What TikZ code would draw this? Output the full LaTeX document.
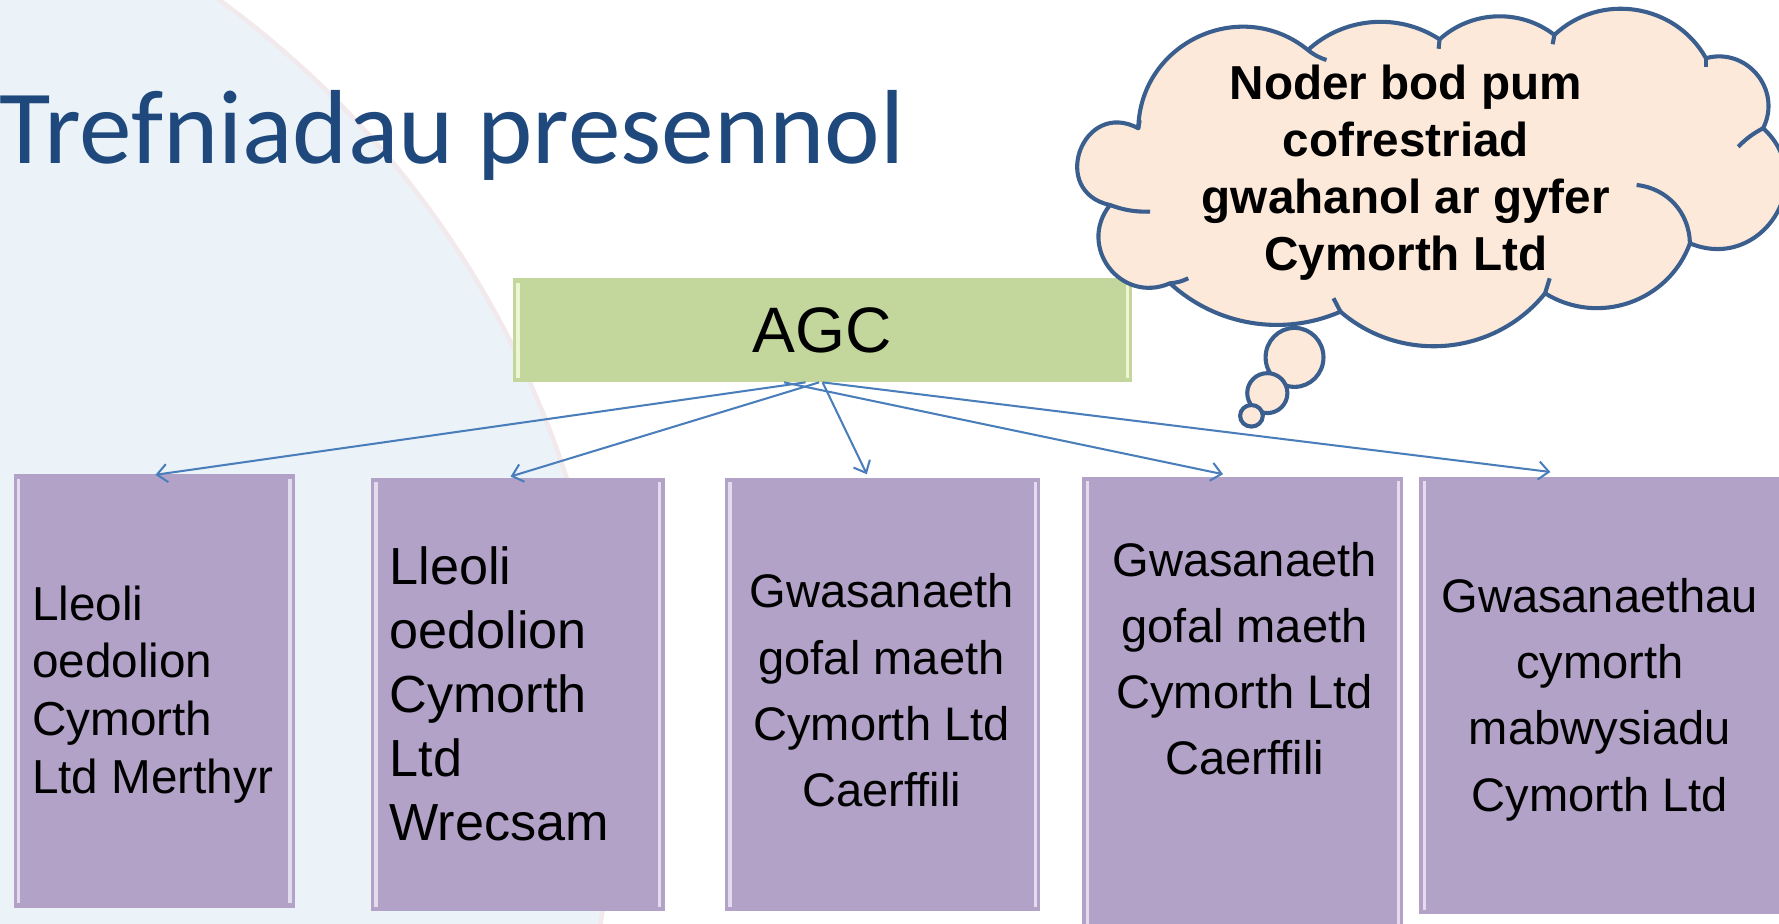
\documentclass[tikz,border=0pt]{standalone}
\usepackage{fontspec}
\setmainfont{Liberation Sans}
\newfontfamily\titlefont{Carlito}
\usetikzlibrary{arrows.meta,calc}
\definecolor{bgblue}{HTML}{EBF3F9}
\definecolor{bgedge}{HTML}{F1E9EC}
\definecolor{titleblue}{HTML}{1F497D}
\definecolor{agcgreen}{HTML}{C3D69B}
\definecolor{agchl}{HTML}{EEF5D2}
\definecolor{boxpurple}{HTML}{B2A2C7}
\definecolor{purplehl}{HTML}{E4DCEE}
\definecolor{arrowblue}{HTML}{4A7EBB}
\definecolor{cloudfill}{HTML}{FDE9D9}
\definecolor{cloudline}{HTML}{3A5F8E}
\begin{document}
\begin{tikzpicture}[x=0.5pt,y=0.5pt,
  purplebox/.style={rectangle, fill=boxpurple, inner sep=0pt, outer sep=0pt,
    path picture={
      \fill[purplehl] ([shift={(1.5pt,-2pt)}]path picture bounding box.north west) rectangle ([shift={(3pt,2pt)}]path picture bounding box.south west);
      \fill[purplehl] ([shift={(-3pt,-2pt)}]path picture bounding box.north east) rectangle ([shift={(-1.5pt,2pt)}]path picture bounding box.south east);
    }},
  greenbox/.style={rectangle, fill=agcgreen, inner sep=0pt, outer sep=0pt,
    path picture={
      \fill[agchl] ([shift={(1.5pt,-2pt)}]path picture bounding box.north west) rectangle ([shift={(3pt,2pt)}]path picture bounding box.south west);
      \fill[agchl] ([shift={(-3pt,-2pt)}]path picture bounding box.north east) rectangle ([shift={(-1.5pt,2pt)}]path picture bounding box.south east);
    }},
  boxtext/.style={inner sep=0pt, font=\fontsize{20.75}{29.2}\selectfont},
  arr/.style={draw=arrowblue, line width=0.9pt, -{Straight Barb[length=4.5pt,width=8pt]}},
  cloudst/.style={fill=cloudfill, draw=cloudline, line width=1.8pt, line join=round},
  creasest/.style={draw=cloudline, line width=1.8pt},
]
\useasboundingbox (0,0) rectangle (1568,814);
\fill[white] (0,0) rectangle (1568,814);
\fill[bgblue, draw=bgedge, line width=2pt] (-300,134) circle[radius=840];

% title
\node[anchor=base west, inner sep=0pt, text=titleblue, font=\titlefont\fontsize{46.4}{50}\selectfont] (title) at (-1,670) {Trefniadau presennol};

% AGC box
\node[greenbox, minimum width=273pt, minimum height=46pt, font=\fontsize{28.3}{34}\selectfont] (agc) at (725,523) {AGC};

% purple boxes
\node[purplebox, minimum width=124pt, minimum height=191pt] (b1) at (136,205) {};
\node[purplebox, minimum width=129.5pt, minimum height=191pt] (b2) at (456.5,202) {};
\node[purplebox, minimum width=139pt, minimum height=191pt] (b3) at (778,202) {};
\node[purplebox, minimum width=141.5pt, minimum height=202pt] (b4) at (1095.5,192) {};
\node[purplebox, minimum width=169.5pt, minimum height=193pt] (b5) at (1420.5,201) {};

% texts (anchor base = baseline of the last line)
\node[boxtext, anchor=base west, align=left, font=\fontsize{21}{25.4}\selectfont] (t1) at (28,115) {Lleoli\\oedolion\\Cymorth\\Ltd Merthyr};
\node[boxtext, anchor=base west, align=left, font=\fontsize{23}{28.2}\selectfont] (t2) at (343,73) {Lleoli\\oedolion\\Cymorth\\Ltd\\Wrecsam};
\node[boxtext, anchor=base, align=center] (t3) at (777,103) {Gwasanaeth\\gofal maeth\\Cymorth Ltd\\Caerffili};
\node[boxtext, anchor=base, align=center] (t4) at (1097,131) {Gwasanaeth\\gofal maeth\\Cymorth Ltd\\Caerffili};
\node[boxtext, anchor=base, align=center] (t5) at (1410,99) {Gwasanaethau\\cymorth\\mabwysiadu\\Cymorth Ltd};

% arrows
\draw[arr] ($(agc.south)+(-15,0)$) -- ($(b1.north)+(1,-0.5)$);
\draw[arr] ($(agc.south)+(-3,0)$) -- ($(b2.north)+(-6.5,1)$);
\draw[arr] ($(agc.south)+(0,0)$) -- ($(b3.north)+(-14,3)$);
\draw[arr] ($(agc.south)+(-34,0)$) -- ($(b4.north)+(-17.5,2)$);
\draw[arr] ($(agc.south)+(0,0)$) -- ($(b5.north)+(-54,4)$);

% cloud
\coordinate (J1) at (1003.3,700.9);
\coordinate (J11) at (1152.8,769.9);
\coordinate (J10) at (1268.8,779.3);
\coordinate (J9) at (1370.0,783.2);
\coordinate (J8) at (1503.6,762.7);
\coordinate (J7) at (1554.0,701.0);
\coordinate (J6) at (1489.5,599.5);
\coordinate (J5) at (1361.8,555.5);
\coordinate (J4) at (1181.5,539.3);
\coordinate (J3) at (1031.2,564.3);
\coordinate (J2) at (978.3,633.3);
\path[cloudst] (J1) to[bend left=64, looseness=1.18] (J11)
  to[bend left=38, looseness=0.95] (J10)
  to[bend left=40, looseness=0.96] (J9)
  to[bend left=52, looseness=1.05] (J8)
  to[bend left=66, looseness=1.21] (J7)
  to[bend left=80, looseness=1.45] (J6)
  to[bend left=51, looseness=1.04] (J5)
  to[bend left=46, looseness=1.0] (J4)
  to[bend left=33, looseness=0.93] (J3)
  to[bend left=76, looseness=1.38] (J2)
  to[bend left=98, looseness=1.98] (J1) -- cycle;
% creases
\coordinate (C2) at (1013.6,627.4);
\coordinate (C3) at (1047.3,568.7);
\coordinate (C4) at (1175.3,551.1);
\coordinate (C5) at (1365.9,568.7);
\coordinate (C6) at (1442.5,651.0);
\coordinate (C7) at (1532.0,684.7);
\coordinate (C8) at (1503.6,755.0);
\coordinate (C9) at (1368.5,775.0);
\coordinate (C10) at (1268.0,771.0);
\coordinate (C11) at (1169.2,761.1);
\coordinate (C1) at (1004.5,708.0);
\draw[creasest] (J2) to[bend right=10] (C2);
\draw[creasest] (J3) to[bend right=10] (C3);
\draw[creasest] (J4) -- (C4);
\draw[creasest] (J5) -- (C5);
\draw[creasest] (J6) to[bend right=41] (C6);
\draw[creasest] (J7) to[bend right=8] (C7);
\draw[creasest] (J8) -- (C8);
\draw[creasest] (J9) -- (C9);
\draw[creasest] (J10) -- (C10);
\draw[creasest] (J11) to[bend right=10] (C11);
\draw[creasest] (J1) -- (C1);
% thought bubbles
\path[cloudst] (1141,499) ellipse[x radius=25.5, y radius=26] coordinate (e1);
\path[cloudst] (1117,467.5) ellipse[x radius=17.7, y radius=17.6] coordinate (e2);
\path[cloudst] (1103,447.5) ellipse[x radius=10, y radius=9.5] coordinate (e3);

\node[anchor=base, align=center, inner sep=0pt, font=\bfseries\fontsize{21}{25.2}\selectfont] (ctext) at (1239,575.5) {Noder bod pum\\cofrestriad\\gwahanol ar gyfer\\Cymorth Ltd};
\end{tikzpicture}
\end{document}
